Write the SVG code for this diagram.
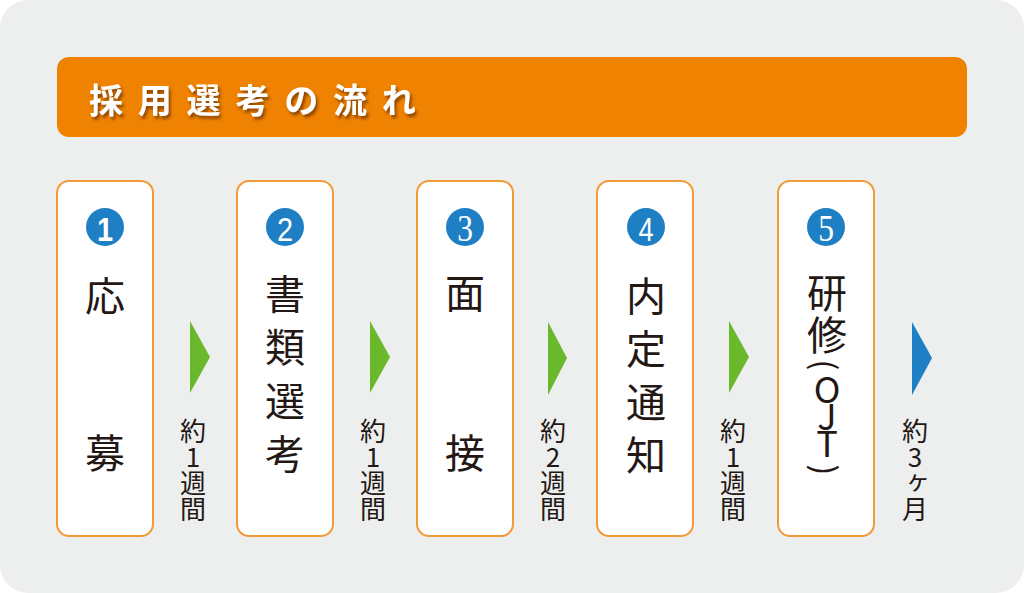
<svg xmlns="http://www.w3.org/2000/svg" width="1024" height="593" viewBox="0 0 1024 593">
<style>
.box{fill:#ffffff;stroke:#f29a3a;stroke-width:2}
.num{fill:#1f7fc4}
.dg{fill:#ffffff;text-anchor:middle}
.sans{font-family:"Liberation Sans",Arial,sans-serif;font-size:34px}
.serif{font-family:"Liberation Serif","Times New Roman",serif;font-size:37px}
.jt{font-family:"Noto Sans CJK JP","Noto Sans",sans-serif;fill:#231815}
.v{writing-mode:vertical-rl;text-orientation:upright}
.big{font-size:40px}
.lab{font-size:26px}
.g{fill:#6ab92d}
.b{fill:#1f7fc4}
</style>
<defs>
<filter id="sh" x="-10%" y="-30%" width="120%" height="160%">
<feDropShadow dx="2" dy="3" stdDeviation="1.5" flood-color="#6b3300" flood-opacity="0.75"/>
</filter>
</defs>
<rect x="0" y="0" width="1024" height="593" rx="28" fill="#edefee"/>
<g id="header">
<rect x="57" y="57" width="910" height="80" rx="12" fill="#ef8200"/>
<text x="89" y="113" font-family="'Noto Sans CJK JP','Noto Sans',sans-serif" font-size="34" font-weight="bold" letter-spacing="14.8" fill="#ffffff" filter="url(#sh)">採用選考の流れ</text>
</g>
<g id="step1">
<rect class="box" x="57" y="181" width="96" height="355" rx="12"/>
<circle class="num" cx="105" cy="227" r="19"/>
<text class="dg sans" font-weight="bold" transform="translate(105,241) scale(0.85,1)">1</text>
<text class="jt big v" x="105" y="276" letter-spacing="117">応募</text>
</g>
<g id="step2">
<rect class="box" x="237" y="181" width="96" height="355" rx="12"/>
<circle class="num" cx="285" cy="227" r="19"/>
<text class="dg sans" transform="translate(285,241) scale(0.85,1)">2</text>
<text class="jt big v" x="285" y="274" letter-spacing="13.3">書類選考</text>
</g>
<g id="step3">
<rect class="box" x="417" y="181" width="96" height="355" rx="12"/>
<circle class="num" cx="465" cy="227" r="19"/>
<text class="dg serif" transform="translate(465,241) scale(0.85,1)">3</text>
<text class="jt big v" x="465" y="273" letter-spacing="120">面接</text>
</g>
<g id="step4">
<rect class="box" x="597" y="181" width="96" height="355" rx="12"/>
<circle class="num" cx="646" cy="227" r="19"/>
<text class="dg sans" transform="translate(646,241) scale(0.8,1)">4</text>
<text class="jt big v" x="646" y="276" letter-spacing="13">内定通知</text>
</g>
<g id="step5">
<rect class="box" x="778" y="181" width="96" height="355" rx="12"/>
<circle class="num" cx="826" cy="227" r="19"/>
<text class="dg serif" transform="translate(826,241) scale(0.85,1)">5</text>
<text class="jt big v" x="827" y="273" letter-spacing="2">研修</text>
<text class="jt" font-size="32" text-anchor="middle" transform="translate(827,365) rotate(90)" dominant-baseline="central">(</text>
<text class="jt v" font-size="36" x="827" y="371" letter-spacing="-9">OJT</text>
<text class="jt" font-size="32" text-anchor="middle" transform="translate(827,470) rotate(90)" dominant-baseline="central">)</text>
</g>
<g id="connectors">
<polygon class="g" points="190,321 210,357 190,393"/>
<polygon class="g" points="370,321 390,357 370,393"/>
<polygon class="g" points="548,322 567,358 548,395"/>
<polygon class="g" points="729,321 749,357 729,393"/>
<polygon class="b" points="912,322 932,358 912,395"/>
<text class="jt lab v" x="193" y="418">約1週間</text>
<text class="jt lab v" x="373" y="418">約1週間</text>
<text class="jt lab v" x="553" y="418">約2週間</text>
<text class="jt lab v" x="733" y="418">約1週間</text>
<text class="jt lab v" x="915" y="418">約3ヶ月</text>
</g>
</svg>
